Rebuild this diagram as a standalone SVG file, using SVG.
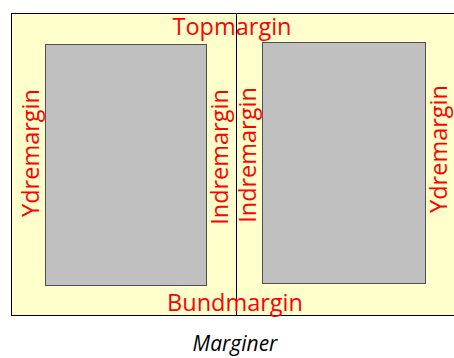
<svg xmlns="http://www.w3.org/2000/svg" width="454" height="358" viewBox="0 0 454 358">
<style>
.lbl{font-family:"Open Sans","Noto Sans","Liberation Sans",sans-serif;font-size:23.5px;fill:#ff0000}
.page{fill:#c0c0c0;stroke:#505050;stroke-width:1}
.cap{font-family:"Open Sans","Noto Sans","Liberation Sans",sans-serif;font-size:21px;font-style:italic;fill:#000}
</style>
<g id="spread">
<rect x="11.5" y="13.5" width="450" height="302" fill="#ffffcc" stroke="#000" stroke-width="1"/>
</g>
<g id="connectors">
<line x1="236.5" y1="13.5" x2="236.5" y2="315.5" stroke="#000" stroke-width="1"/>
</g>
<g id="left-page"><rect class="page" x="45.5" y="44.5" width="161" height="241"/></g>
<g id="right-page"><rect class="page" x="262.5" y="42.5" width="163" height="241"/></g>
<g id="top"><text class="lbl" x="232" y="35" text-anchor="middle">Topmargin</text></g>
<g id="bottom"><text class="lbl" x="235" y="311" text-anchor="middle">Bundmargin</text></g>
<g id="ydre-left"><text class="lbl" transform="translate(39,153) rotate(-90)" text-anchor="middle">Ydremargin</text></g>
<g id="indre-left"><text class="lbl" transform="translate(228,157) rotate(-90)" text-anchor="middle">Indremargin</text></g>
<g id="indre-right"><text class="lbl" transform="translate(256,155) rotate(-90)" text-anchor="middle">Indremargin</text></g>
<g id="ydre-right"><text class="lbl" transform="translate(447,149) rotate(-90)" text-anchor="middle">Ydremargin</text></g>
<g id="caption"><text class="cap" x="235" y="351" text-anchor="middle">Marginer</text></g>
</svg>
